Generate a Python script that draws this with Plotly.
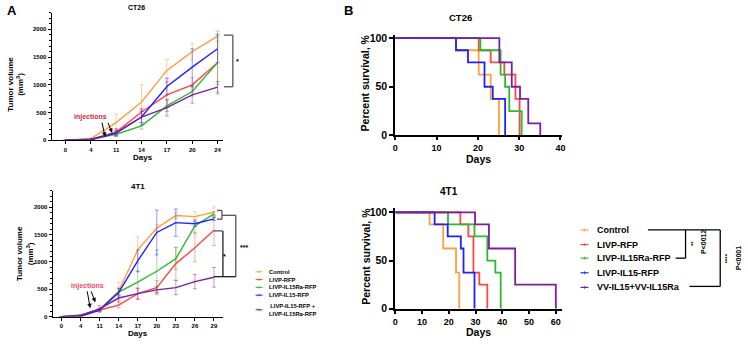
import math
import plotly.graph_objects as go

W, H = 748, 345
FONT = "Arial, Liberation Sans, sans-serif"

# ---------------- data ----------------
groups_A = ["Control", "LIVP-RFP", "LIVP-IL15Ra-RFP", "LIVP-IL15-RFP", "LIVP-IL15-RFP +<br>LIVP-IL15Ra-RFP"]
groups_B = ["Control", "LIVP-RFP", "LIVP-IL15Ra-RFP", "LIVP-IL15-RFP", "VV-IL15+VV-IL15Ra"]
colors = ["#FFA040", "#FF4545", "#2DB82D", "#2020FF", "#7A1FA2"]
err_colors = ["rgba(255,160,64,0.5)", "rgba(255,69,69,0.45)", "rgba(45,184,45,0.45)",
              "rgba(32,32,255,0.45)", "rgba(122,31,162,0.45)"]

ct26_days = ["0", "4", "11", "14", "17", "20", "24"]
ct26_ctl = [0, 30, 320, 690, 1260, 1600, 1880]
ct26_ctl_err = [0, 10, 150, 310, 200, 150, 40]
ct26_rfp = [0, 10, 150, 510, 820, 1000, 1400]
ct26_rfp_err = [0, 5, 40, 70, 230, 130, 390]
ct26_il15ra = [0, 20, 110, 260, 620, 880, 1400]
ct26_il15ra_err = [0, 5, 30, 60, 100, 80, 570]
ct26_il15 = [0, 10, 130, 420, 970, 1320, 1650]
ct26_il15_err = [0, 5, 40, 100, 150, 330, 250]
ct26_combo = [0, 20, 140, 420, 590, 820, 960]
ct26_combo_err = [0, 5, 70, 140, 150, 150, 100]

t1_days = ["0", "4", "11", "14", "17", "20", "23", "26", "29"]
t1_ctl = [0, 20, 130, 470, 1220, 1620, 1850, 1830, 1910]
t1_ctl_err = [0, 10, 30, 160, 240, 60, 60, 90, 100]
t1_rfp = [0, 0, 120, 210, 420, 530, 970, 1260, 1580]
t1_rfp_err = [0, 5, 20, 50, 100, 130, 300, 260, 280]
t1_il15ra = [0, 30, 130, 450, 630, 830, 1060, 1660, 1880]
t1_il15ra_err = [0, 10, 20, 60, 210, 390, 200, 120, 40]
t1_il15 = [0, 10, 120, 440, 1020, 1540, 1720, 1700, 1790]
t1_il15_err = [0, 5, 20, 80, 200, 410, 250, 50, 30]
t1_combo = [0, 20, 140, 340, 420, 490, 530, 640, 720]
t1_combo_err = [0, 5, 60, 60, 100, 60, 130, 130, 180]

# survival (Kaplan-Meier steps): time of each drop, survival after it
ct26_surv_ctl_t = [0, 14.7, 20.2, 23.1, 25.1]
ct26_surv_ctl_s = [100, 87.5, 62.5, 37.5, 0]
ct26_surv_rfp_t = [0, 20.2, 23.1, 26.4, 29.1, 30.1]
ct26_surv_rfp_s = [100, 87.5, 75, 62.5, 37.5, 0]
ct26_surv_il15ra_t = [0, 20.6, 25.5, 26.6, 27.6, 30.6]
ct26_surv_il15ra_s = [100, 87.5, 62.5, 50, 25, 0]
ct26_surv_il15_t = [0, 14.7, 17.6, 21.6, 23.6, 26.6]
ct26_surv_il15_s = [100, 87.5, 75, 50, 37.5, 0]
ct26_surv_combo_t = [0, 25.2, 28.2, 30.2, 32.2, 35.1]
ct26_surv_combo_s = [100, 75, 50, 37.5, 12.5, 0]

t1_surv_ctl_t = [0, 12.8, 17.9, 22.7, 23.9]
t1_surv_ctl_s = [100, 87.5, 62.5, 37.5, 0]
t1_surv_rfp_t = [0, 24.3, 27.3, 29.2, 31.4, 34.4]
t1_surv_rfp_s = [100, 87.5, 75, 37.5, 25, 0]
t1_surv_il15ra_t = [0, 19.7, 29.6, 34.4, 37.4, 39.4]
t1_surv_il15ra_s = [100, 87.5, 75, 50, 37.5, 0]
t1_surv_il15_t = [0, 14.7, 19.6, 24.5, 25.5, 29.6]
t1_surv_il15_s = [100, 87.5, 75, 62.5, 37.5, 0]
t1_surv_combo_t = [0, 29.8, 35.0, 44.8, 60.0]
t1_surv_combo_s = [100, 87.5, 62.5, 25, 0]

# ---------------- helpers ----------------
def px(x):
    return x / W

def py(y):
    return 1 - y / H

fig = go.Figure()

ct26_series = [(ct26_ctl, ct26_ctl_err), (ct26_rfp, ct26_rfp_err), (ct26_il15ra, ct26_il15ra_err),
               (ct26_il15, ct26_il15_err), (ct26_combo, ct26_combo_err)]
t1_series = [(t1_ctl, t1_ctl_err), (t1_rfp, t1_rfp_err), (t1_il15ra, t1_il15ra_err),
             (t1_il15, t1_il15_err), (t1_combo, t1_combo_err)]

for i, (v, e) in enumerate(ct26_series):
    fig.add_trace(go.Scatter(x=ct26_days, y=v, mode="lines", name=groups_A[i],
                             line=dict(color=colors[i], width=1.4),
                             error_y=dict(type="data", array=e, color=err_colors[i], thickness=1, width=2),
                             xaxis="x", yaxis="y", showlegend=False))
for i, (v, e) in enumerate(t1_series):
    fig.add_trace(go.Scatter(x=t1_days, y=v, mode="lines", name=groups_A[i],
                             line=dict(color=colors[i], width=1.4),
                             error_y=dict(type="data", array=e, color=err_colors[i], thickness=1, width=2),
                             xaxis="x2", yaxis="y2", showlegend=False))

ct26_surv = [(ct26_surv_ctl_t, ct26_surv_ctl_s), (ct26_surv_rfp_t, ct26_surv_rfp_s),
             (ct26_surv_il15ra_t, ct26_surv_il15ra_s), (ct26_surv_il15_t, ct26_surv_il15_s),
             (ct26_surv_combo_t, ct26_surv_combo_s)]
t1_surv = [(t1_surv_ctl_t, t1_surv_ctl_s), (t1_surv_rfp_t, t1_surv_rfp_s),
           (t1_surv_il15ra_t, t1_surv_il15ra_s), (t1_surv_il15_t, t1_surv_il15_s),
           (t1_surv_combo_t, t1_surv_combo_s)]
for i, (t, s) in enumerate(ct26_surv):
    fig.add_trace(go.Scatter(x=t, y=s, mode="lines", line_shape="hv", name=groups_B[i],
                             line=dict(color=colors[i], width=1.8), xaxis="x3", yaxis="y3", showlegend=False))
for i, (t, s) in enumerate(t1_surv):
    fig.add_trace(go.Scatter(x=t, y=s, mode="lines", line_shape="hv", name=groups_B[i],
                             line=dict(color=colors[i], width=1.8), xaxis="x4", yaxis="y4", showlegend=False))

# ---------------- axes ----------------
def ax_A(domain_x, anchor, cats, rng):
    return dict(domain=domain_x, anchor=anchor, type="category", categoryorder="array", categoryarray=cats,
                range=rng, showline=True, linecolor="black", linewidth=1, ticks="outside", ticklen=3,
                tickwidth=1, tickcolor="black", showgrid=False, zeroline=False,
                tickfont=dict(size=6, weight="bold", family=FONT))

def ay_A(domain_y, anchor):
    return dict(domain=domain_y, anchor=anchor, range=[0, 2300], tickvals=[0, 500, 1000, 1500, 2000],
                showline=True, linecolor="black", linewidth=1, ticks="outside", ticklen=3, tickwidth=1,
                tickcolor="black", showgrid=False, zeroline=False,
                minor=dict(tickmode="linear", tick0=0, dtick=100, ticks="outside", ticklen=1.5, tickcolor="black"),
                tickfont=dict(size=6, weight="bold", family=FONT))

def ax_B(domain_x, anchor, rng, dtick):
    return dict(domain=domain_x, anchor=anchor, range=rng, dtick=dtick, tick0=0, showline=True,
                linecolor="black", linewidth=2, ticks="outside", ticklen=3, tickwidth=2, tickcolor="black",
                showgrid=False, zeroline=False, tickfont=dict(size=9, weight="bold", family=FONT))

def ay_B(domain_y, anchor, rng):
    return dict(domain=domain_y, anchor=anchor, range=rng, tickvals=[0, 50, 100], showline=True,
                linecolor="black", linewidth=2, ticks="outside", ticklen=4, tickwidth=2, tickcolor="black",
                showgrid=False, zeroline=False, tickfont=dict(size=10.5, weight="bold", family=FONT))

fig.update_layout(
    width=W, height=H, margin=dict(l=0, r=0, t=0, b=0),
    plot_bgcolor="white", paper_bgcolor="white", showlegend=False,
    font=dict(family=FONT, color="black"),
    xaxis=ax_A([px(49), px(222)], "y", ct26_days, [-0.55, 6.21]),
    yaxis=ay_A([py(141), py(10)], "x"),
    xaxis2=ax_A([px(50), px(222)], "y2", t1_days, [-0.47, 8.47]),
    yaxis2=ay_A([py(322), py(193)], "x2"),
    xaxis3=ax_B([px(396), px(564)], "y3", [0, 40.3], 10),
    yaxis3=ay_B([py(136), py(33)], "x3", [0, 103]),
    xaxis4=ax_B([px(396), px(564)], "y4", [0, 62.2], 10),
    yaxis4=ay_B([py(314), py(210)], "x4", [0, 105]),
)

# ---------------- annotations ----------------
ann = []
def text(x, y, s, size, color="black", angle=0, xanchor="center", yanchor="middle"):
    ann.append(dict(x=px(x), y=py(y), xref="paper", yref="paper", text=s, showarrow=False,
                    font=dict(size=size, color=color, family=FONT, weight="bold"),
                    textangle=angle, xanchor=xanchor, yanchor=yanchor))

text(9, 8, "A", 13)
text(349, 8, "B", 13)
text(135, 5, "CT26", 7)
text(136, 188, "4T1", 8)
text(462, 15, "CT26", 9.5)
text(450, 194, "4T1", 10)
text(141, 159, "Days", 8)
text(136, 339, "Days", 8)
text(480, 160, "Days", 10.5)
text(480, 338, "Days", 10.5)
text(13, 83, "Tumor volume<br>(mm<sup>3</sup>)", 8, angle=-90)
text(22, 257, "Tumor volume<br>(mm<sup>3</sup>)", 8, angle=-90)
text(365, 82, "Percent survival, %", 10.5, angle=-90)
text(367, 260, "Percent survival, %", 10.5, angle=-90)

# injections
text(88, 117, "injections", 7, color="#D0283C")
text(85, 291, "injections", 7, color="#EE4A64")

# significance markers
text(237, 60, "*", 7)
text(224, 260, "*", 7)
text(243, 251, "***", 7)
text(696, 247, "**", 6, angle=-90)
text(707, 245, "P<0012", 7, angle=-90)
text(731, 262, "****", 6, angle=-90)
text(742, 262, "P<0001", 7, angle=-90)

# manual legends
legA_y = [276, 284, 292, 300, 315]
for i, g in enumerate(groups_A):
    text(266, legA_y[i], g, 5.8, xanchor="left")
legB_y = [233, 248, 262, 277, 292]
for i, g in enumerate(groups_B):
    text(598, legB_y[i], g, 9, xanchor="left")

fig.update_layout(annotations=ann)

# ---------------- shapes ----------------
shapes = []
def seg(x0, y0, x1, y1, color="#555555", width=1.3):
    shapes.append(dict(type="line", xref="paper", yref="paper", x0=px(x0), y0=py(y0), x1=px(x1), y1=py(y1),
                       line=dict(color=color, width=width)))

def arrow(x0, y0, x1, y1):
    dx, dy = x1 - x0, y1 - y0
    L = math.hypot(dx, dy)
    ux, uy = dx / L, dy / L
    nx, ny = -uy, ux
    bx, by = x1 - 4 * ux, y1 - 4 * uy
    seg(x0, y0, bx, by, color="black", width=1)
    pts = [(x1, y1), (bx + 1.8 * nx, by + 1.8 * ny), (bx - 1.8 * nx, by - 1.8 * ny)]
    path = "M " + " L ".join(f"{px(a):.5f},{py(b):.5f}" for a, b in pts) + " Z"
    shapes.append(dict(type="path", xref="paper", yref="paper", path=path,
                       fillcolor="black", line=dict(color="black", width=0.5)))

arrow(100, 123, 103, 137)
arrow(106, 123, 110, 133)
arrow(85, 296, 88, 313)
arrow(89, 296, 93, 307)

# legend keys
for i in range(5):
    seg(255, legA_y[i], 262, legA_y[i], color=colors[i], width=1)
    seg(258.5, legA_y[i] - 1.2, 258.5, legA_y[i] + 1.2, color=colors[i], width=0.8)
    seg(583, legB_y[i], 591, legB_y[i], color=colors[i], width=1.2)
    seg(587, legB_y[i] - 1.5, 587, legB_y[i] + 1.5, color=colors[i], width=0.8)

# bracket A top
seg(223, 33, 232, 33)
seg(232, 33, 232, 86)
seg(223, 86, 232, 86)
# brackets A bottom
seg(216, 213, 221, 213)
seg(221, 213, 221, 222)
seg(216, 222, 221, 222)
seg(221, 218, 235, 218)
seg(235, 218, 235, 281)
seg(213, 281, 235, 281, color="#222222")
seg(213, 234, 222, 234)
seg(222, 234, 222, 281, color="#222222")
# brackets legend B
seg(651, 233, 724, 233, color="black")
seg(724, 233, 724, 291, color="black")
seg(693, 291, 724, 291, color="black")
seg(679, 262, 689, 262, color="black")
seg(689, 233, 689, 262, color="black")

fig.update_layout(shapes=shapes)

fig.write_html("out.html", config={"displayModeBar": False},
               post_script="document.body.style.margin='0';document.body.style.padding='0';")
